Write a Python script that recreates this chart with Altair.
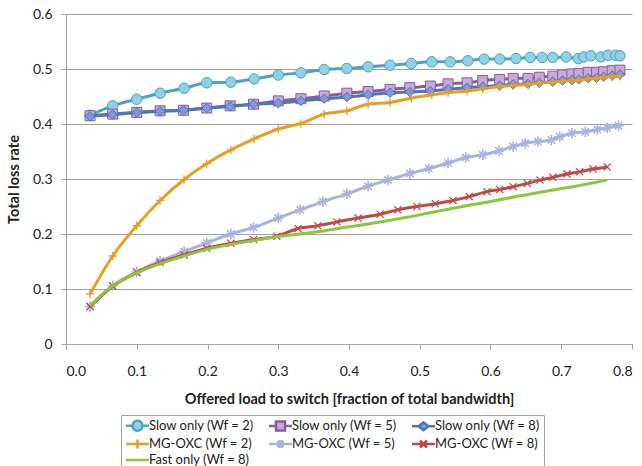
import altair as alt
import pandas as pd

SERIES = [
    "Slow only (Wf = 2)", "Slow only (Wf = 5)", "Slow only (Wf = 8)",
    "MG-OXC (Wf = 2)", "MG-OXC (Wf = 5)", "MG-OXC (Wf = 8)", "Fast only (Wf = 8)",
]

X_SLOW2 = [0.034, 0.066, 0.100, 0.133, 0.167, 0.199, 0.233, 0.266, 0.300, 0.332, 0.365, 0.397,
           0.427, 0.458, 0.488, 0.517, 0.543, 0.568, 0.591, 0.613, 0.636, 0.656, 0.673, 0.688,
           0.707, 0.724, 0.732, 0.742, 0.756, 0.766, 0.777, 0.783]
Y_SLOW2 = [0.416, 0.433, 0.445, 0.456, 0.465, 0.475, 0.476, 0.482, 0.489, 0.493, 0.499, 0.501,
           0.504, 0.507, 0.510, 0.513, 0.513, 0.515, 0.518, 0.518, 0.519, 0.521, 0.521, 0.521,
           0.522, 0.519, 0.522, 0.524, 0.522, 0.525, 0.525, 0.524]

X_SLOW5 = [0.034, 0.066, 0.100, 0.133, 0.166, 0.199, 0.232, 0.265, 0.300, 0.332, 0.365, 0.397,
           0.427, 0.458, 0.486, 0.515, 0.540, 0.567, 0.589, 0.613, 0.632, 0.653, 0.669, 0.688,
           0.702, 0.715, 0.725, 0.738, 0.750, 0.760, 0.772, 0.783]
Y_SLOW5 = [0.415, 0.418, 0.421, 0.424, 0.425, 0.429, 0.433, 0.436, 0.442, 0.446, 0.451, 0.456,
           0.459, 0.463, 0.466, 0.469, 0.473, 0.475, 0.479, 0.481, 0.483, 0.483, 0.485, 0.487,
           0.489, 0.491, 0.492, 0.494, 0.494, 0.495, 0.497, 0.498]

X_SLOW8 = X_SLOW5
Y_SLOW8 = [0.414, 0.417, 0.421, 0.423, 0.425, 0.429, 0.432, 0.436, 0.438, 0.442, 0.446, 0.449,
           0.453, 0.457, 0.458, 0.460, 0.463, 0.466, 0.468, 0.470, 0.472, 0.473, 0.475, 0.477,
           0.479, 0.480, 0.481, 0.483, 0.484, 0.486, 0.488, 0.490]

X_MG2 = [0.034, 0.066, 0.100, 0.133, 0.167, 0.199, 0.233, 0.266, 0.300, 0.332, 0.365, 0.397,
         0.427, 0.458, 0.488, 0.517, 0.540, 0.567, 0.589, 0.613, 0.632, 0.653, 0.669, 0.688,
         0.702, 0.715, 0.725, 0.738, 0.750, 0.760, 0.772, 0.783]
Y_MG2 = [0.091, 0.160, 0.215, 0.261, 0.299, 0.328, 0.353, 0.373, 0.391, 0.401, 0.418, 0.424,
         0.436, 0.439, 0.447, 0.453, 0.457, 0.460, 0.464, 0.468, 0.470, 0.472, 0.474, 0.476,
         0.478, 0.479, 0.480, 0.482, 0.483, 0.485, 0.486, 0.487]

X_MG5 = [0.034, 0.066, 0.100, 0.133, 0.167, 0.199, 0.233, 0.265, 0.300, 0.331, 0.363, 0.397,
         0.427, 0.455, 0.486, 0.513, 0.540, 0.565, 0.589, 0.612, 0.632, 0.649, 0.667, 0.686,
         0.698, 0.715, 0.734, 0.751, 0.765, 0.781]
Y_MG5 = [0.068, 0.106, 0.131, 0.151, 0.168, 0.184, 0.200, 0.212, 0.229, 0.244, 0.259, 0.273,
         0.287, 0.298, 0.310, 0.319, 0.329, 0.339, 0.344, 0.351, 0.359, 0.365, 0.368, 0.371,
         0.377, 0.383, 0.386, 0.390, 0.393, 0.397]

X_MG8 = [0.034, 0.066, 0.100, 0.133, 0.167, 0.199, 0.233, 0.265, 0.298, 0.328, 0.356, 0.383,
         0.413, 0.444, 0.469, 0.496, 0.522, 0.547, 0.570, 0.595, 0.613, 0.632, 0.652, 0.670,
         0.688, 0.708, 0.726, 0.745, 0.765]
Y_MG8 = [0.068, 0.105, 0.130, 0.148, 0.162, 0.174, 0.183, 0.190, 0.196, 0.210, 0.215, 0.222,
         0.229, 0.236, 0.244, 0.250, 0.255, 0.261, 0.268, 0.277, 0.281, 0.286, 0.292, 0.298,
         0.303, 0.309, 0.313, 0.318, 0.322]

X_FAST = [0.034, 0.066, 0.100, 0.133, 0.167, 0.199, 0.233, 0.265, 0.298, 0.330, 0.360, 0.400,
          0.440, 0.480, 0.520, 0.560, 0.600, 0.640, 0.680, 0.720, 0.765]
Y_FAST = [0.070, 0.106, 0.129, 0.146, 0.160, 0.172, 0.181, 0.188, 0.195, 0.200, 0.205, 0.213,
          0.221, 0.230, 0.240, 0.250, 0.259, 0.269, 0.278, 0.287, 0.298]

X_TICKS = [0.0, 0.1, 0.2, 0.3, 0.4, 0.5, 0.6, 0.7, 0.8]
Y_TICKS = [0.0, 0.1, 0.2, 0.3, 0.4, 0.5, 0.6]

X_DATA = [X_SLOW2, X_SLOW5, X_SLOW8, X_MG2, X_MG5, X_MG8, X_FAST]
Y_DATA = [Y_SLOW2, Y_SLOW5, Y_SLOW8, Y_MG2, Y_MG5, Y_MG8, Y_FAST]

LINE_COLORS = ["#4aa5c0", "#8a5c9f", "#4f74b9", "#e89d27", "#a8b4de", "#be4b48", "#8dc63f"]
MARKER_FILLS = ["#90d0e4", "#c8a8d8", "#7d9ad8", "transparent", "transparent", "transparent", "transparent"]

PLUS = "M-1,0L1,0M0,-1L0,1"
STAR = "M-1,0L1,0M0,-1L0,1M-0.7,-0.7L0.7,0.7M-0.7,0.7L0.7,-0.7"
CROSS = "M-0.8,-0.8L0.8,0.8M-0.8,0.8L0.8,-0.8"
MARKERS = [
    dict(shape="circle", size=110, filled=True, sw=1),
    dict(shape="square", size=100, filled=True, sw=1),
    dict(shape="diamond", size=90, filled=True, sw=1),
    dict(shape=PLUS, size=70, filled=False, sw=1.3),
    dict(shape=STAR, size=110, filled=False, sw=1.6),
    dict(shape=CROSS, size=80, filled=False, sw=1.2),
    None,
]

# legend symbols: line segment plus marker, shifted right so the line meets the label
LEG_PATHS = [
    "M-1.1,0L0.2,0M2.2,0L3.5,0M0.2,0A1,1,0,1,0,2.2,0A1,1,0,1,0,0.2,0Z",
    "M-1.1,0L0.3,0M2.1,0L3.5,0M0.3,-0.9L2.1,-0.9L2.1,0.9L0.3,0.9Z",
    "M-1.1,0L0.2,0M2.2,0L3.5,0M0.2,0L1.2,-0.8L2.2,0L1.2,0.8Z",
    "M-1.1,0L3.5,0M1.2,-0.9L1.2,0.9",
    "M-1.1,0L3.5,0M1.2,-0.8L1.2,0.8M0.6,-0.6L1.8,0.6M0.6,0.6L1.8,-0.6",
    "M-1.1,0L3.5,0M0.5,-0.7L1.9,0.7M0.5,0.7L1.9,-0.7",
    "M-1.1,0L3.5,0",
]

rows = []
for name, xs, ys in zip(SERIES, X_DATA, Y_DATA):
    for xv, yv in zip(xs, ys):
        rows.append({"series": name, "load": xv, "loss": yv})
df = pd.DataFrame(rows)

FONT = "Lato"
TXT = "#222222"
GRAYLINE = "#a3a3a3"

x_enc = alt.X(
    "load:Q",
    scale=alt.Scale(domain=[0, 0.8], nice=False, zero=False),
    axis=alt.Axis(
        values=X_TICKS, format=".1f", grid=False,
        title="Offered load to switch [fraction of total bandwidth]",
        titlePadding=14, labelPadding=15,
    ),
)
y_enc = alt.Y(
    "loss:Q",
    scale=alt.Scale(domain=[0, 0.6], nice=False),
    axis=alt.Axis(
        values=Y_TICKS, grid=True,
        labelExpr="datum.value == 0 ? '0' : format(datum.value, '.1f')",
        title="Total loss rate", titlePadding=11, labelPadding=9,
    ),
)

layers = []
for i, s in enumerate(SERIES):
    base = alt.Chart(df).transform_filter(alt.datum.series == s).encode(x=x_enc, y=y_enc)
    layers.append(base.mark_line(color=LINE_COLORS[i], strokeWidth=3, interpolate="monotone"))
    m = MARKERS[i]
    if m is not None:
        if m["filled"]:
            layers.append(base.mark_point(
                shape=m["shape"], size=m["size"], filled=True, fill=MARKER_FILLS[i],
                stroke=LINE_COLORS[i], strokeWidth=m["sw"], opacity=1))
        else:
            layers.append(base.mark_point(
                shape=m["shape"], size=m["size"], filled=False,
                stroke=LINE_COLORS[i], strokeWidth=m["sw"], opacity=1))

LEG = alt.Legend(
    title=None, orient="none", legendX=55, legendY=401, columns=3, direction="horizontal",
    labelFont=FONT, labelFontSize=13, labelColor=TXT, labelOffset=11,
    symbolSize=100, symbolStrokeWidth=2.5, strokeColor=GRAYLINE, fillColor="white",
    padding=4, rowPadding=-1.5, columnPadding=10,
)
legend_layer = alt.Chart(df).transform_filter("false").mark_point(filled=True, opacity=1, size=100).encode(
    x=x_enc, y=y_enc,
    fill=alt.Fill("series:N", scale=alt.Scale(domain=SERIES, range=MARKER_FILLS), legend=LEG, sort=None),
    stroke=alt.Stroke("series:N", scale=alt.Scale(domain=SERIES, range=LINE_COLORS), legend=LEG, sort=None),
    shape=alt.Shape("series:N", scale=alt.Scale(domain=SERIES, range=LEG_PATHS), legend=LEG, sort=None),
)

chart = alt.layer(*layers, legend_layer).properties(
    width=566, height=330,
    autosize=alt.AutoSizeParams(type="none"),
    padding={"left": 66, "top": 14, "right": 10, "bottom": 122},
).configure_view(stroke=None).configure_axis(
    labelFont=FONT, labelFontSize=14, labelColor=TXT,
    titleFont=FONT, titleFontSize=14.5, titleFontWeight="bold", titleColor=TXT,
    domainColor=GRAYLINE, tickColor=GRAYLINE, gridColor=GRAYLINE, tickSize=5,
)

chart.save("out.html", embed_options={"renderer": "svg", "actions": False})
